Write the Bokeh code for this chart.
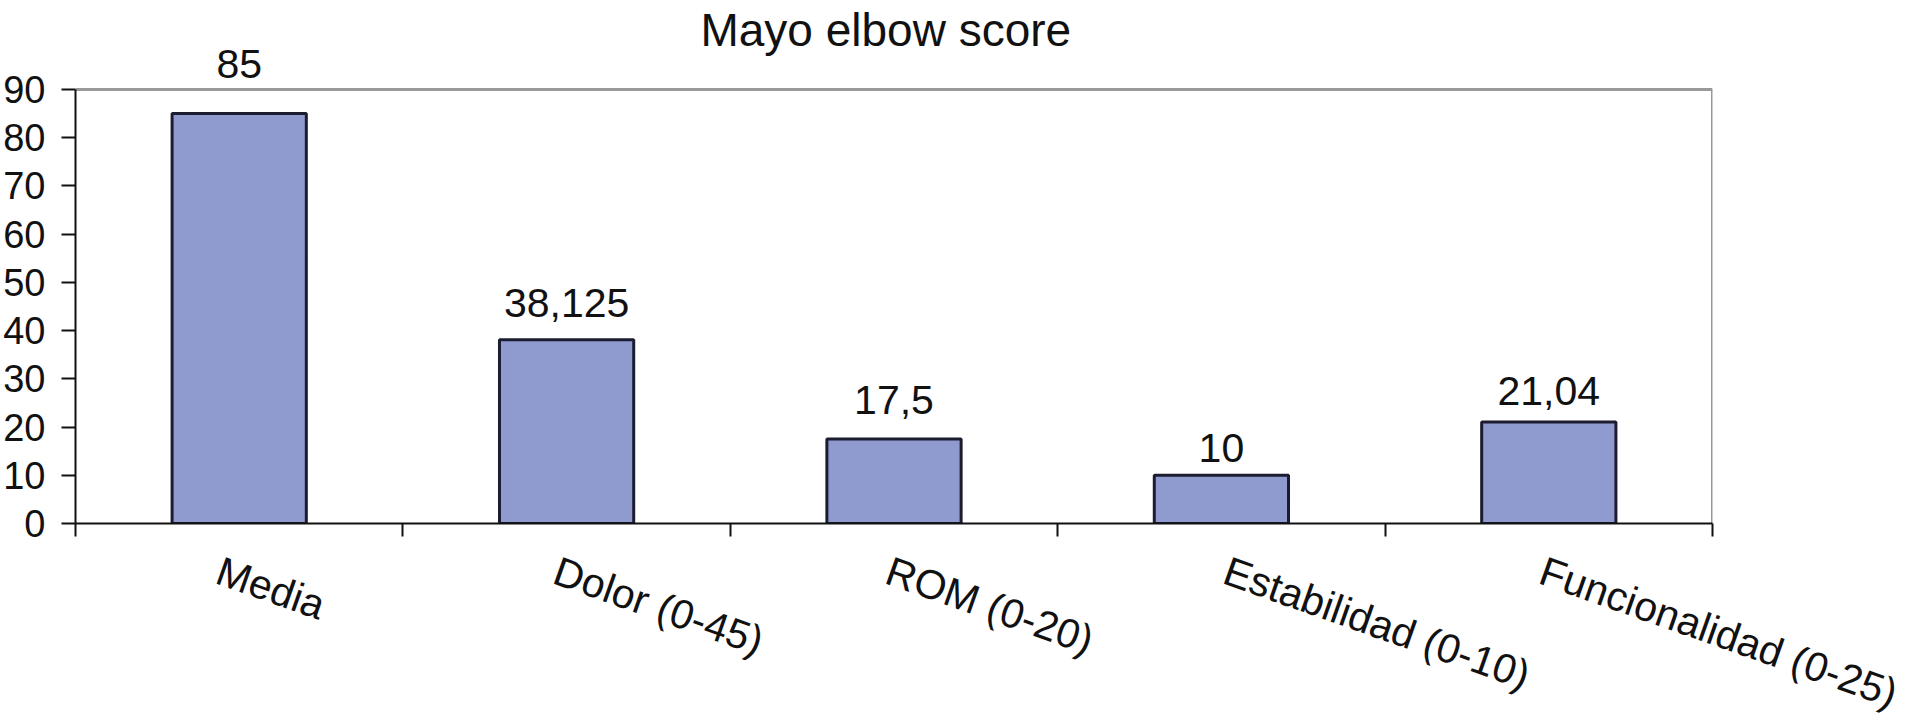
from bokeh.plotting import figure
from bokeh.models import (ColumnDataSource, Range1d, FixedTicker, LabelSet, Label,
                          LinearAxis)
from bokeh.core.properties import value
from bokeh.embed import file_html
from bokeh.resources import INLINE

# ---- data ----
categories = ["Media", "Dolor (0-45)", "ROM (0-20)", "Estabilidad (0-10)", "Funcionalidad (0-25)"]
scores = [85, 38.125, 17.5, 10, 21.04]
y_ticks = [0, 10, 20, 30, 40, 50, 60, 70, 80, 90]
title_text = "Mayo elbow score"

# ---- style ----
label_offsets_px = [36, 23, 25, 13, 17]          # value-label gap above bars (px)
tick_label_shift = [-0.064, -0.034, -0.019, 0.012, 0.055]  # category label nudge
FONT = "Liberation Sans"
BAR_FILL = "#8f9bcf"
BAR_LINE = "#1c1c30"
PLOT_H = 434      # px for the 0..90 part
HEAD_PX = 89      # px above the 90 line (title + top value label)
FRAME_W = 1637

n = len(categories)
y_max = y_ticks[-1]
y_end = y_max * (PLOT_H + HEAD_PX) / PLOT_H
centers = [i + 0.5 for i in range(n)]
label_pos = [c + s for c, s in zip(centers, tick_label_shift)]
labels = [f"{v:g}".replace(".", ",") for v in scores]

src = ColumnDataSource(dict(x=centers, top=scores, label=labels, yoff=label_offsets_px))

p = figure(frame_width=FRAME_W, frame_height=PLOT_H + HEAD_PX,
           x_range=Range1d(0, n), y_range=Range1d(0, y_end),
           x_axis_location=None, y_axis_location=None,
           output_backend="svg", toolbar_location=None,
           min_border_left=72, min_border_top=0, min_border_right=191, min_border_bottom=150)
p.xgrid.visible = False
p.ygrid.visible = False
p.outline_line_color = None
p.background_fill_color = "white"
p.border_fill_color = "white"

# top and right border of the plot area (grey)
p.segment(x0=[0, n], y0=[y_max, 0], x1=[n, n], y1=[y_max, y_max],
          line_color="#999999", line_width=3)

p.vbar(x="x", top="top", bottom=0, width=0.41, source=src,
       fill_color=BAR_FILL, line_color=BAR_LINE, line_width=3)

# y axis
yax = LinearAxis(ticker=FixedTicker(ticks=y_ticks, minor_ticks=[]), bounds=(0, y_max))
yax.axis_line_color = "#111111"
yax.axis_line_width = 2
yax.major_tick_line_color = "#111111"
yax.major_tick_line_width = 2
yax.major_tick_out = 14
yax.major_tick_in = 0
yax.minor_tick_line_color = None
yax.major_label_text_font = FONT
yax.major_label_text_font_size = "38px"
yax.major_label_text_color = "#111111"
yax.major_label_standoff = 16
p.add_layout(yax, "left")

# x axis: labels near category centres, ticks at category boundaries
xax = LinearAxis(ticker=FixedTicker(ticks=label_pos, minor_ticks=list(range(n + 1))))
xax.major_label_overrides = {pos: cat for pos, cat in zip(label_pos, categories)}
xax.axis_line_color = "#111111"
xax.axis_line_width = 2
xax.major_tick_out = 0
xax.major_tick_in = 0
xax.major_tick_line_color = None
xax.minor_tick_line_color = "#111111"
xax.minor_tick_line_width = 2
xax.minor_tick_out = 13
xax.minor_tick_in = 0
xax.major_label_orientation = -0.34
xax.major_label_text_font = FONT
xax.major_label_text_font_size = "41px"
xax.major_label_text_color = "#111111"
xax.major_label_standoff = 33
p.add_layout(xax, "below")

# value labels
p.add_layout(LabelSet(x="x", y="top", text="label", y_offset="yoff", source=src,
                      text_align="center", text_baseline="alphabetic",
                      text_font=value(FONT), text_font_size="41px", text_color="#111111"))

# title
p.add_layout(Label(x=2.475, y=y_max, y_offset=60, text=title_text,
                   text_align="center", text_baseline="alphabetic",
                   text_font=FONT, text_font_size="46px", text_color="#111111"))

open("out.html", "w").write(file_html(p, INLINE))
